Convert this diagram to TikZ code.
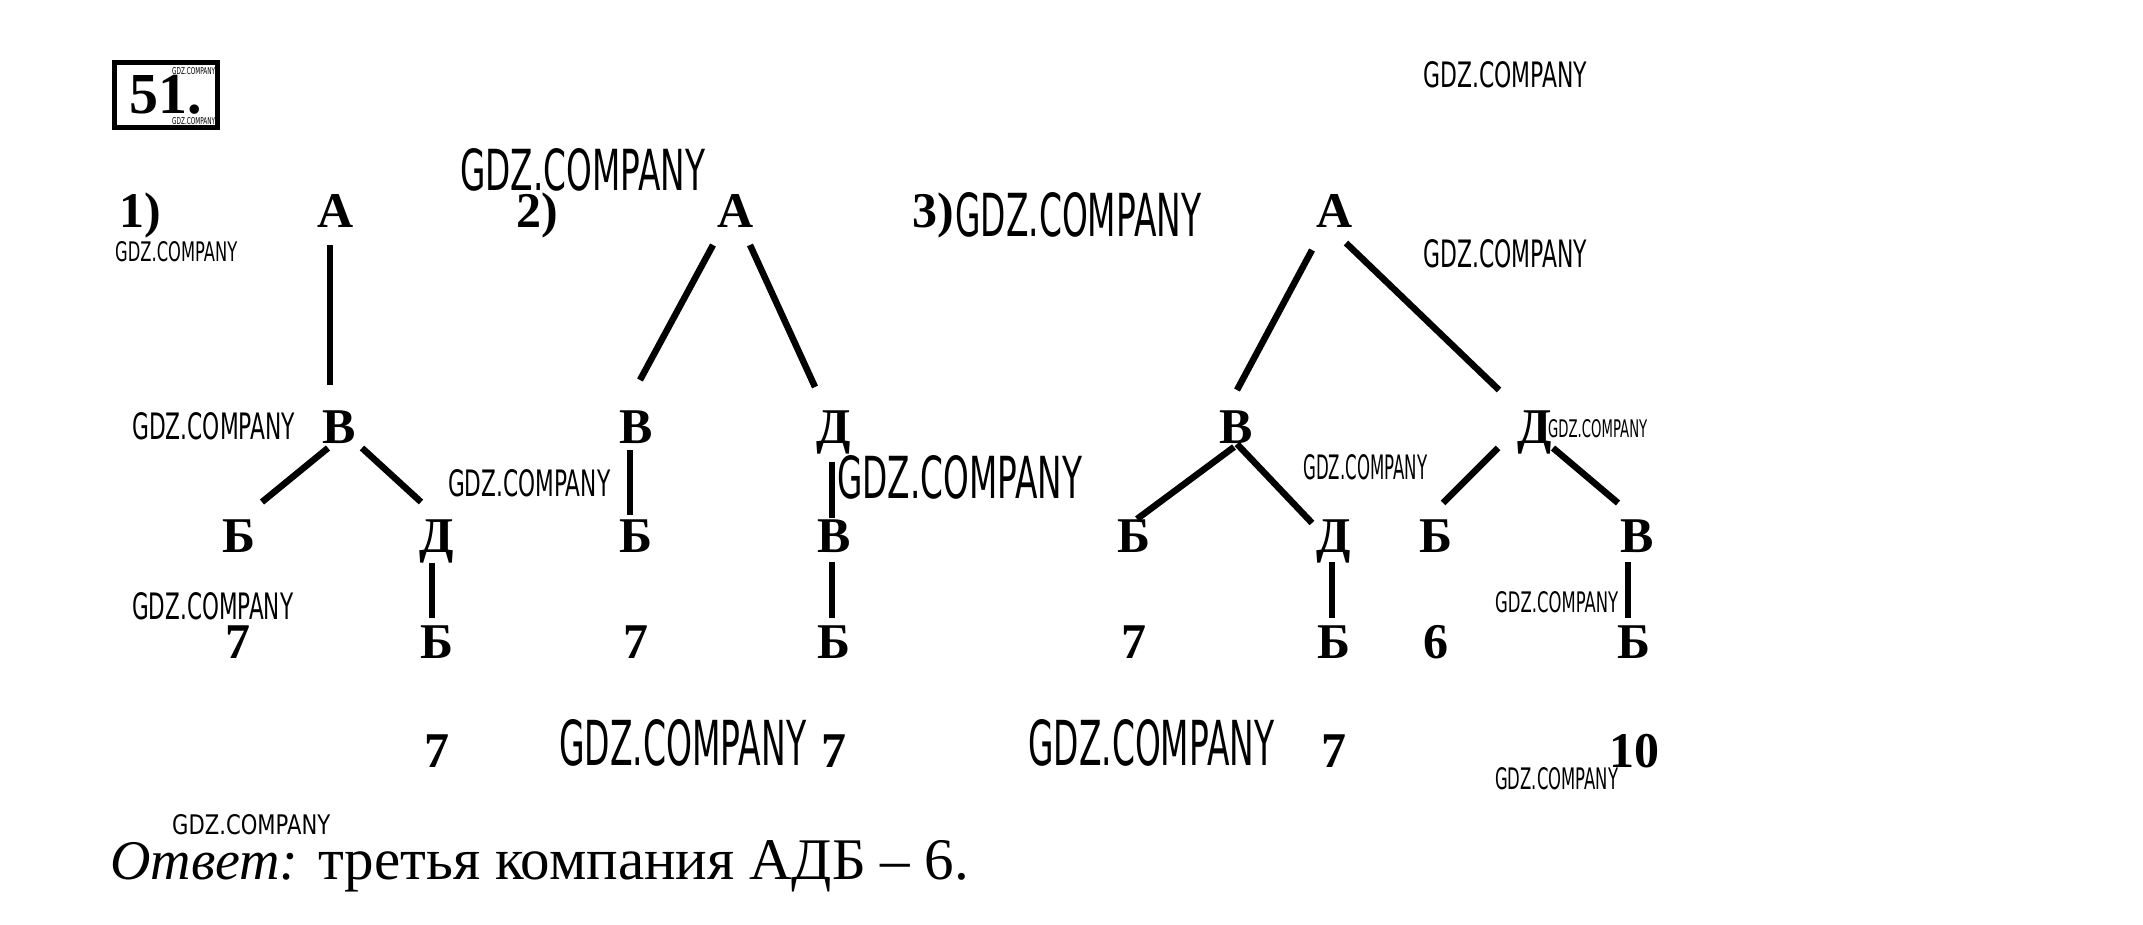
\documentclass[tikz,border=0pt]{standalone}
\usepackage{fontspec}
\setmainfont{Liberation Serif}
\newfontfamily\wmfont{DejaVu Sans}
\usetikzlibrary{calc}
\tikzset{
  lbl/.style={anchor=base, inner sep=0pt, font=\fontsize{50}{60}\selectfont\bfseries},
  edge/.style={line width=6.5pt, black},
  wmark/.style={anchor=south west, inner sep=0pt},
}
\newcommand\gdzmark[5]{\node[wmark] (#1) at (#2,#3) {\resizebox{#4pt}{#5pt}{\wmfont GDZ.COMPANY}};}
\begin{document}
\begin{tikzpicture}[x=1pt,y=-1pt]
\useasboundingbox (0,0) rectangle (2143,925);
\fill[white] (0,0) rectangle (2143,925);

% number box
\node[draw, line width=5pt, minimum width=103pt, minimum height=65pt, inner sep=0pt,
      font=\fontsize{58}{60}\selectfont\bfseries] (box) at (166,95) {51.};

% tree labels
\node[lbl] (n1) at (140,228) {1)};
\node[lbl] (n2) at (537,228) {2)};
\node[lbl] (n3) at (933,228) {3)};

% tree 1
\node[lbl] (t1A) at (336,228) {А};
\node[lbl] (t1B) at (339,443) {В};
\node[lbl] (t1BB) at (239,552) {Б};
\node[lbl] (t1BD) at (437,552) {Д};
\node[lbl] (t1BDB) at (437,658) {Б};
\node[lbl] (t1s1) at (238,658) {7};
\node[lbl] (t1s2) at (437,767) {7};
\draw[edge] ($(t1A.base)+(-6,17)$) -- ($(t1B.base)+(-9,-58)$);
\draw[edge] ($(t1B.base)+(-11,5)$) -- ($(t1BB.base)+(23,-50)$);
\draw[edge] ($(t1B.base)+(23,5)$) -- ($(t1BD.base)+(-16,-50)$);
\draw[edge] ($(t1BD.base)+(-5,11)$) -- ($(t1BDB.base)+(-5,-40)$);

% tree 2
\node[lbl] (t2A) at (736,228) {А};
\node[lbl] (t2B) at (636,443) {В};
\node[lbl] (t2D) at (834,443) {Д};
\node[lbl] (t2BB) at (636,552) {Б};
\node[lbl] (t2DB) at (834,552) {В};
\node[lbl] (t2DBB) at (834,658) {Б};
\node[lbl] (t2s1) at (636,658) {7};
\node[lbl] (t2s2) at (834,767) {7};
\draw[edge] ($(t2A.base)+(-23,17)$) -- ($(t2B.base)+(4,-63)$);
\draw[edge] ($(t2A.base)+(14,17)$) -- ($(t2D.base)+(-19,-56)$);
\draw[edge] ($(t2B.base)+(-6,7)$) -- ($(t2BB.base)+(-6,-37)$);
\draw[edge] ($(t2D.base)+(-2,19)$) -- ($(t2DB.base)+(-2,-34)$);
\draw[edge] ($(t2DB.base)+(-2,10)$) -- ($(t2DBB.base)+(-2,-40)$);

% tree 3
\node[lbl] (t3A) at (1335,228) {А};
\node[lbl] (t3B) at (1236,443) {В};
\node[lbl] (t3D) at (1535,443) {Д};
\node[lbl] (t3BB) at (1134,552) {Б};
\node[lbl] (t3BD) at (1334,552) {Д};
\node[lbl] (t3DB) at (1436,552) {Б};
\node[lbl] (t3DV) at (1637,552) {В};
\node[lbl] (t3s1) at (1134,658) {7};
\node[lbl] (t3BDB) at (1334,658) {Б};
\node[lbl] (t3s2) at (1436,658) {6};
\node[lbl] (t3DVB) at (1634,658) {Б};
\node[lbl] (t3s3) at (1334,767) {7};
\node[lbl] (t3s4) at (1634,767) {10};
\draw[edge] ($(t3A.base)+(-23,22)$) -- ($(t3B.base)+(1,-53)$);
\draw[edge] ($(t3A.base)+(11,15)$) -- ($(t3D.base)+(-36,-53)$);
\draw[edge] ($(t3B.base)+(-2,4)$) -- ($(t3BB.base)+(3,-33)$);
\draw[edge] ($(t3B.base)+(1,1)$) -- ($(t3BD.base)+(-22,-29)$);
\draw[edge] ($(t3D.base)+(-37,5)$) -- ($(t3DB.base)+(7,-49)$);
\draw[edge] ($(t3D.base)+(18,5)$) -- ($(t3DV.base)+(-19,-49)$);
\draw[edge] ($(t3BD.base)+(-2,10)$) -- ($(t3BDB.base)+(-2,-40)$);
\draw[edge] ($(t3DV.base)+(-9,10)$) -- ($(t3DVB.base)+(-6,-40)$);

% answer
\node[anchor=base west, inner sep=0pt, font=\fontsize{59}{62}\selectfont] (ans) at (110,879)
  {{\fontsize{56}{60}\selectfont\itshape Ответ:} третья компания АДБ – 6.};

% watermarks
\gdzmark{w1}{172}{75}{43}{7}
\gdzmark{w2}{172}{125}{43}{7}
\gdzmark{w3}{1423}{88}{164}{26}
\gdzmark{w4}{1423}{268}{164}{28}
\gdzmark{w5}{460}{192}{245}{42}
\gdzmark{w6}{115}{262}{122}{20}
\gdzmark{w7}{132}{440}{163}{27}
\gdzmark{w8}{448}{497}{162}{27}
\gdzmark{w9}{132}{620}{161}{27}
\gdzmark{w10}{955}{238}{246}{44}
\gdzmark{w11}{837}{500}{245}{43}
\gdzmark{w12}{559}{767}{247}{46}
\gdzmark{w13}{1028}{767}{246}{46}
\gdzmark{w14}{1303}{480}{124}{25}
\gdzmark{w15}{1548}{438}{99}{18}
\gdzmark{w16}{1495}{613}{123}{21}
\gdzmark{w17}{1495}{790}{123}{22}
\gdzmark{w18}{172}{835}{158}{20}
\end{tikzpicture}
\end{document}
